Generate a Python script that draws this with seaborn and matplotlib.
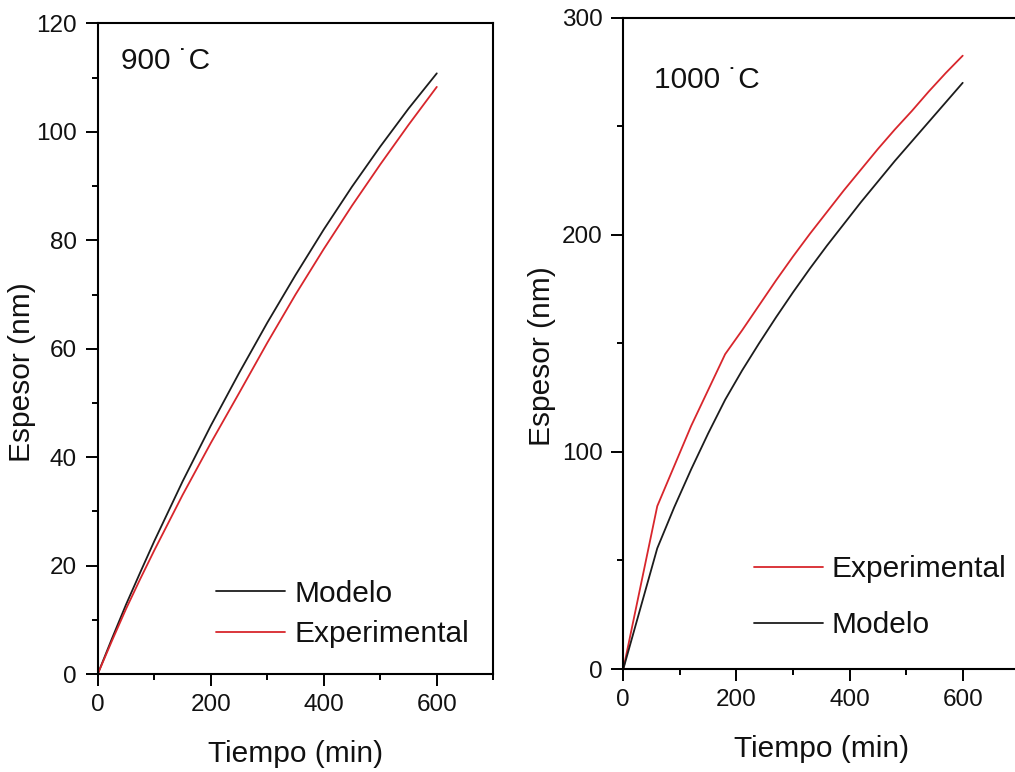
import matplotlib
matplotlib.use("Agg")
import matplotlib.pyplot as plt
from matplotlib.ticker import MultipleLocator
import seaborn as sns

# ---- data ----
t_900 = [0, 25, 50, 75, 100, 150, 200, 250, 300, 350, 400, 450, 500, 550, 600]
modelo_900 = [0, 6.5, 12.8, 18.7, 24.5, 35.5, 45.8, 55.5, 64.8, 73.6, 82.0, 89.9, 97.3, 104.3, 110.8]
exp_900 = [0, 6.1, 12.0, 17.5, 22.8, 33.0, 42.6, 51.8, 61.1, 70.0, 78.4, 86.4, 94.0, 101.3, 108.3]

t_exp_1000 = [0, 60, 120, 180, 210, 240, 270, 300, 330, 360, 390, 420, 450, 480, 510, 540, 570, 600]
exp_1000 = [0, 75, 112, 145, 156, 167.5, 179, 190, 200.5, 210.5, 220.5, 230, 239.5, 248.5, 257, 266, 274.5, 282.5]
t_mod_1000 = [0, 60, 90, 120, 150, 180, 210, 240, 270, 300, 330, 360, 390, 420, 450, 480, 510, 540, 570, 600]
modelo_1000 = [0, 55.6, 74.5, 92, 108.5, 124, 137.5, 150, 162, 173.5, 184.5, 195, 205, 215, 224.5, 234, 243, 252, 261, 270]

label_900 = "900 \u02d9C"
label_1000 = "1000 \u02d9C"
xlabel = "Tiempo (min)"
ylabel = "Espesor (nm)"

sns.set_theme(style="ticks")
plt.rcParams["font.family"] = ["Liberation Sans", "DejaVu Sans"]

BLACK = "#1c1c1c"
RED = "#d8262c"
TXT = "#111111"

fig = plt.figure(figsize=(10.15, 7.72), dpi=100)
ax1 = fig.add_axes([0.0963, 0.1269, 0.3897, 0.8427])
ax2 = fig.add_axes([0.6141, 0.1334, 0.3901, 0.8437])

sns.lineplot(x=t_900, y=modelo_900, ax=ax1, color=BLACK, lw=1.3, label="Modelo")
sns.lineplot(x=t_900, y=exp_900, ax=ax1, color=RED, lw=1.3, label="Experimental")

sns.lineplot(x=t_exp_1000, y=exp_1000, ax=ax2, color=RED, lw=1.3, label="Experimental")
sns.lineplot(x=t_mod_1000, y=modelo_1000, ax=ax2, color=BLACK, lw=1.3, label="Modelo")

for ax, ymax, ymaj, ymin in [(ax1, 120, 20, 10), (ax2, 300, 100, 50)]:
    ax.set_xlim(0, 700)
    ax.set_ylim(0, ymax)
    ax.xaxis.set_major_locator(MultipleLocator(200))
    ax.xaxis.set_minor_locator(MultipleLocator(100))
    ax.yaxis.set_major_locator(MultipleLocator(ymaj))
    ax.yaxis.set_minor_locator(MultipleLocator(ymin))
    for s in ax.spines.values():
        s.set_visible(True)
        s.set_linewidth(1.5)
        s.set_color("black")
    ax.tick_params(which="major", direction="out", length=8.5, width=1.4,
                   labelsize=17.5, color="black", labelcolor=TXT)
    ax.tick_params(axis="y", which="major", pad=6.5)
    ax.tick_params(axis="x", which="major", pad=6)
    ax.tick_params(which="minor", direction="out", length=4.5, width=1.4, color="black")
    ax.set_xlabel(xlabel, fontsize=21.5, labelpad=17, color=TXT)
    ax.set_ylabel(ylabel, fontsize=21.5, color=TXT)

ax1.yaxis.set_label_coords(-0.156, 0.464)
ax2.yaxis.set_label_coords(-0.170, 0.481)

ax1.text(0.058, 0.93, label_900, transform=ax1.transAxes, fontsize=21.5,
         ha="left", va="baseline", color=TXT)
ax2.text(0.077, 0.892, label_1000, transform=ax2.transAxes, fontsize=21.5,
         ha="left", va="baseline", color=TXT)

leg1 = ax1.legend(loc="lower left", bbox_to_anchor=(0.27, 0.021), frameon=False,
                  fontsize=21.5, handlelength=2.3, handletextpad=0.3,
                  labelspacing=0.42, borderaxespad=0)
leg2 = ax2.legend(loc="lower left", bbox_to_anchor=(0.3, 0.027), frameon=False,
                  fontsize=21.5, handlelength=2.3, handletextpad=0.3,
                  labelspacing=0.95, borderaxespad=0)
for leg in (leg1, leg2):
    for txt in leg.get_texts():
        txt.set_color(TXT)
    for line in leg.get_lines():
        line.set_linewidth(1.3)

fig.savefig("out.png", dpi=100)
